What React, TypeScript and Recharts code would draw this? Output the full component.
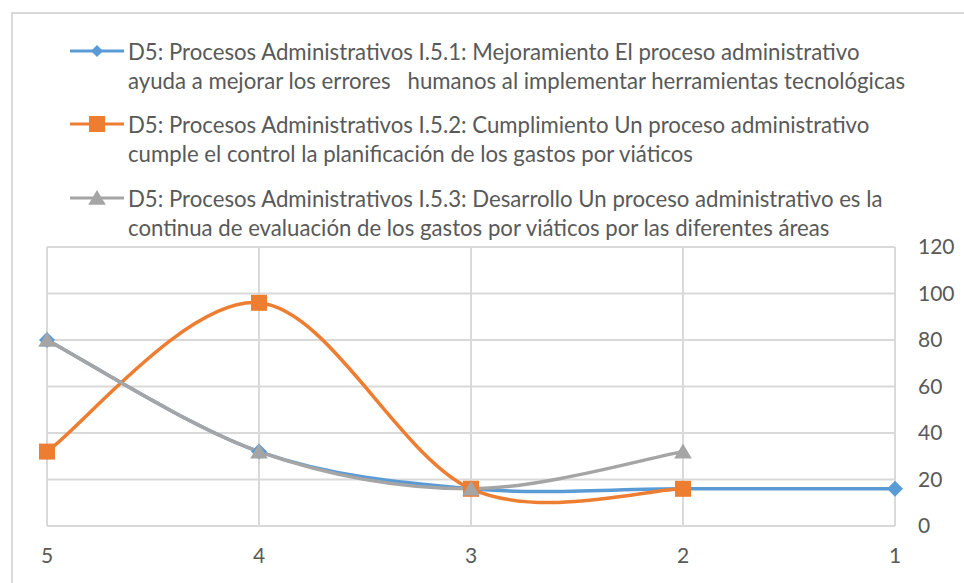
import React from 'react'
import { LineChart, Line, XAxis, YAxis, CartesianGrid } from 'recharts'

const categories = ['5', '4', '3', '2', '1']
const mejoramiento = [80, 32, 16, 16, 16]
const cumplimiento = [32, 96, 16, 16, null]
const desarrollo = [80, 32, 16, 32, null]
const yTicks = [0, 20, 40, 60, 80, 100, 120]

const seriesNames = [
  'D5: Procesos Administrativos I.5.1: Mejoramiento El proceso administrativo\nayuda a mejorar los errores   humanos al implementar herramientas tecnológicas',
  'D5: Procesos Administrativos I.5.2: Cumplimiento Un proceso administrativo\ncumple el control la planificación de los gastos por viáticos',
  'D5: Procesos Administrativos I.5.3: Desarrollo Un proceso administrativo es la\ncontinua de evaluación de los gastos por viáticos por las diferentes áreas',
]

const BLUE = '#5B9BD5'
const ORANGE = '#ED7D31'
const GRAY = '#A5A5A5'
const TEXT = '#595959'
const GRID = '#D9D9D9'
const FONT = 'Lato, "Open Sans", sans-serif'

const chartData = categories.map((c, i) => ({
  cat: c,
  s1: mejoramiento[i],
  s2: cumplimiento[i],
  s3: desarrollo[i],
}))

// Excel-style smoothing: cubic bezier with control points at p1 + (p2 - p0) / 6
function excelCurve(context: any) {
  let pts: [number, number][] = []
  return {
    areaStart() {},
    areaEnd() {},
    lineStart() {
      pts = []
    },
    lineEnd() {
      const n = pts.length
      if (!n) return
      context.moveTo(pts[0][0], pts[0][1])
      for (let i = 0; i < n - 1; i++) {
        const p0 = pts[Math.max(i - 1, 0)]
        const p1 = pts[i]
        const p2 = pts[i + 1]
        const p3 = pts[Math.min(i + 2, n - 1)]
        context.bezierCurveTo(
          p1[0] + (p2[0] - p0[0]) / 6,
          p1[1] + (p2[1] - p0[1]) / 6,
          p2[0] - (p3[0] - p1[0]) / 6,
          p2[1] - (p3[1] - p1[1]) / 6,
          p2[0],
          p2[1]
        )
      }
    },
    point(x: number, y: number) {
      pts.push([+x, +y])
    },
  }
}

function Marker({ kind, cx, cy, color, s }: { kind: string; cx: number; cy: number; color: string; s: number }) {
  if (kind === 'diamond') {
    return <path d={`M${cx},${cy - s}L${cx + s},${cy}L${cx},${cy + s}L${cx - s},${cy}Z`} fill={color} />
  }
  if (kind === 'square') {
    return <rect x={cx - s} y={cy - s} width={s * 2} height={s * 2} fill={color} />
  }
  return <path d={`M${cx},${cy - s}L${cx + s * 1.1},${cy + s * 0.85}L${cx - s * 1.1},${cy + s * 0.85}Z`} fill={color} />
}

const makeDot = (kind: string, color: string, s: number) => (props: any) => {
  const { cx, cy, index, value } = props
  if (value == null || cx == null || cy == null) return <g key={`n${index}`} />
  return <Marker key={`m${index}`} kind={kind} cx={cx} cy={cy} color={color} s={s} />
}

const legendItems = [
  { kind: 'diamond', color: BLUE, s: 6, top: 37 },
  { kind: 'square', color: ORANGE, s: 8, top: 110 },
  { kind: 'triangle', color: GRAY, s: 8, top: 184 },
]

export default function App() {
  return (
    <div style={{ position: 'absolute', left: 0, top: 0, width: 964, height: 583, background: '#fff', overflow: 'hidden', fontFamily: FONT }}>
      <div style={{ position: 'absolute', left: 11, top: 12, width: 1000, height: 1000, borderLeft: `2px solid ${GRID}`, borderTop: `2px solid ${GRID}` }} />
      {legendItems.map((it, i) => (
        <div key={i} style={{ position: 'absolute', left: 70, top: it.top }}>
          <svg width={54} height={28} style={{ position: 'absolute', left: 0, top: 0 }}>
            <line x1={0} y1={14} x2={54} y2={14} stroke={it.color} strokeWidth={3} />
            <Marker kind={it.kind} cx={27} cy={14} color={it.color} s={it.s} />
          </svg>
          <div style={{ position: 'absolute', left: 58, top: 0, whiteSpace: 'pre', color: TEXT, fontSize: 22.2, lineHeight: '29px' }}>
            {seriesNames[i]}
          </div>
        </div>
      ))}
      <div style={{ position: 'absolute', left: 0, top: 0 }}>
        <LineChart width={964} height={583} data={chartData} margin={{ top: 247, right: 10, bottom: 10, left: 47 }}>
          <CartesianGrid stroke={GRID} strokeWidth={2} />
          <XAxis
            dataKey="cat"
            scale="point"
            padding={{ left: 0, right: 0 }}
            axisLine={false}
            tickLine={false}
            tickSize={0}
            tickMargin={22}
            height={47}
            tick={{ fill: TEXT, fontSize: 21, fontFamily: FONT }}
          />
          <YAxis
            orientation="right"
            domain={[0, 120]}
            ticks={yTicks}
            axisLine={false}
            tickLine={false}
            tickSize={0}
            tickMargin={23}
            width={59}
            tick={{ fill: TEXT, fontSize: 21, fontFamily: FONT, textAnchor: 'start' }}
          />
          <Line dataKey="s1" stroke={BLUE} strokeWidth={3.5} type={excelCurve as any} dot={makeDot('diamond', BLUE, 8)} activeDot={false} isAnimationActive={false} />
          <Line dataKey="s2" stroke={ORANGE} strokeWidth={3.5} type={excelCurve as any} dot={makeDot('square', ORANGE, 8)} activeDot={false} isAnimationActive={false} />
          <Line dataKey="s3" stroke={GRAY} strokeWidth={3.5} type={excelCurve as any} dot={makeDot('triangle', GRAY, 8)} activeDot={false} isAnimationActive={false} />
        </LineChart>
      </div>
    </div>
  )
}
